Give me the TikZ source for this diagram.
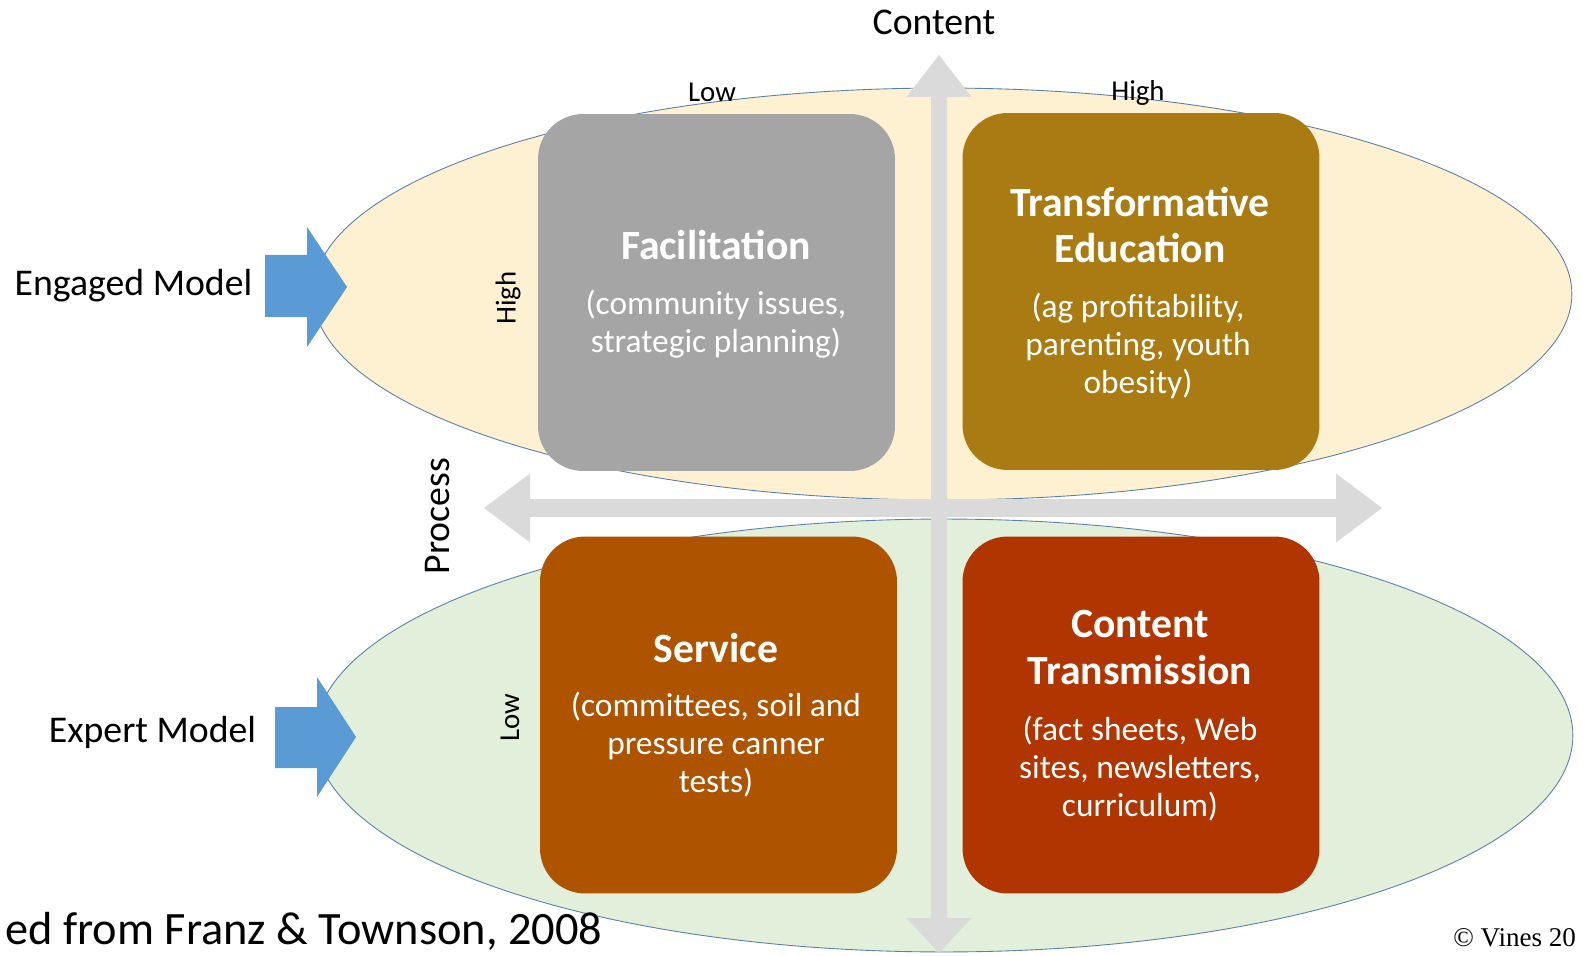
\documentclass[tikz,border=0pt]{standalone}
\usepackage{fontspec}
\setmainfont{Carlito}
\newfontfamily\vinesfont{Liberation Serif}
\usetikzlibrary{shapes.geometric}
\definecolor{cream}{HTML}{FEF1D2}
\definecolor{mint}{HTML}{E2EFDA}
\definecolor{rim}{HTML}{5A7FA8}
\definecolor{modelblue}{HTML}{5B9BD5}
\definecolor{axisgray}{HTML}{DADADA}
\definecolor{facgray}{HTML}{A5A5A5}
\definecolor{transgold}{HTML}{A97B12}
\definecolor{servbrown}{HTML}{AE5300}
\definecolor{contred}{HTML}{B13500}
\begin{document}
\begin{tikzpicture}
		[x=0.02cm, y=-0.02cm,
		field/.style={ellipse, draw=rim, line width=0.5pt, inner sep=0pt},
		quad/.style={rounded corners=0.9cm, inner sep=0pt,
			minimum width=7.14cm, minimum height=7.14cm},
		qtitle/.style={text=white, align=center,
			font=\bfseries\fontsize{23.7}{26.2}\selectfont},
		qtext/.style={text=white, align=center,
			font=\fontsize{19}{21.6}\selectfont},
		axislabel/.style={font=\fontsize{21.5}{24}\selectfont},
		levellabel/.style={font=\fontsize{16.4}{18}\selectfont}]
		\clip (0,0) rectangle (1583,956);
		\node[field, fill=cream, minimum width=25.18cm, minimum height=8.24cm] (engagedfield) at (942.5,294) {};
		\node[field, fill=mint, minimum width=25.16cm, minimum height=8.66cm] (expertfield) at (944,735.5) {};
		\fill[axisgray] (484,508) -- (530,473.5) -- (530,499) -- (1336,499) -- (1336,473.5) -- (1382,508)
			-- (1336,542.5) -- (1336,517) -- (530,517) -- (530,542.5) -- cycle;
		\fill[axisgray] (939,55) -- (971.5,97) -- (947,97) -- (947,918) -- (971.5,918) -- (939,953)
			-- (906.5,918) -- (931,918) -- (931,97) -- (906.5,97) -- cycle;
		\fill[modelblue] (265,255) -- (307,255) -- (307,227) -- (347,287) -- (307,347) -- (307,317) -- (265,317) -- cycle;
		\fill[modelblue] (275,707) -- (317,707) -- (317,677) -- (356,737) -- (317,797) -- (317,768) -- (275,768) -- cycle;
		\node[quad, fill=facgray] (fac) at (716.5,292.5) {};
		\node[quad, fill=transgold] (trans) at (1141,291.5) {};
		\node[quad, fill=servbrown] (serv) at (718.5,715) {};
		\node[quad, fill=contred] (cont) at (1141,715) {};
		\node[qtitle] (factitle) at (716,245) {Facilitation};
		\node[qtext] (factext) at (716,324) {(community issues,\\strategic planning)};
		\node[qtitle] (transtitle) at (1140,225) {Transformative\\Education};
		\node[qtext] (transtext) at (1138,346) {(ag profitability,\\parenting, youth\\obesity)};
		\node[qtitle] (servtitle) at (716,648) {Service};
		\node[qtext] (servtext) at (716,745) {(committees, soil and\\pressure canner\\tests)};
		\node[qtitle] (conttitle) at (1140,647.5) {Content\\Transmission};
		\node[qtext] (conttext) at (1140,768.5) {(fact sheets, Web\\sites, newsletters,\\curriculum)};
		\node[axislabel] (content) at (934,22) {Content};
		\node[axislabel, rotate=90] (process) at (438,516) {Process};
		\node[axislabel, anchor=base] (engaged) at (133.5,296) {Engaged Model};
		\node[axislabel, anchor=base] (expert) at (152.5,742) {Expert Model};
		\node[levellabel] (contentlow) at (712,92) {Low};
		\node[levellabel] (contenthigh) at (1138,93) {High};
		\node[levellabel, rotate=90] (processhigh) at (508,298) {High};
		\node[levellabel, rotate=90] (processlow) at (510,718) {Low};
		\node[font=\fontsize{26.4}{28}\selectfont, anchor=base west, inner sep=0pt] (source) at (5,944) {ed from Franz \& Townson, 2008};
		\node[font=\vinesfont\fontsize{15.4}{17}\selectfont, anchor=base west, inner sep=0pt] (vines) at (1453,946) {© Vines 20};
	\end{tikzpicture}
\end{document}
